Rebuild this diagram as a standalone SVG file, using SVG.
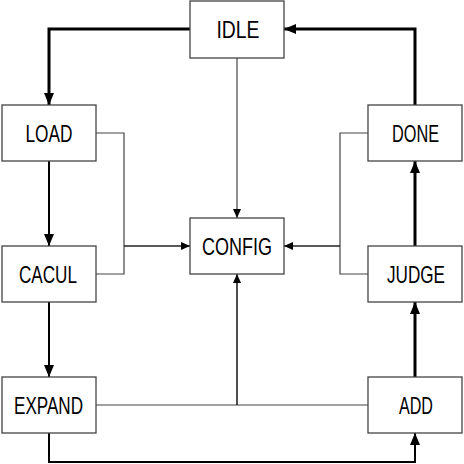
<svg xmlns="http://www.w3.org/2000/svg" width="464" height="464" viewBox="0 0 464 464">
<defs>
<marker id="big" viewBox="0 0 12 10" refX="12" refY="5" markerWidth="12" markerHeight="10" markerUnits="userSpaceOnUse" orient="auto"><path d="M0,0 L12,5 L0,10 Z" fill="#000"/></marker>
<marker id="sm" viewBox="0 0 9 8" refX="9" refY="4" markerWidth="9" markerHeight="8" markerUnits="userSpaceOnUse" orient="auto"><path d="M0,0 L9,4 L0,8 Z" fill="#000"/></marker>
</defs>
<style>
.box{fill:#fff;stroke:#444;stroke-width:1.3}
.t{font-family:"Liberation Sans",Arial,sans-serif;font-size:24px;fill:#000;text-anchor:middle}
.thick{fill:none;stroke:#000;stroke-width:3}
.med{fill:none;stroke:#000;stroke-width:2}
.thin{fill:none;stroke:#444;stroke-width:1.2}
.thinb{fill:none;stroke:#222;stroke-width:1.6}
</style>
<rect width="464" height="464" fill="#fff"/>
<g id="connectors">
<path class="thick" d="M190,29 H49 V105" marker-end="url(#big)"/>
<path class="thick" d="M415,105 V29 H284" marker-end="url(#big)"/>
<path class="thick" d="M415,246 V161" marker-end="url(#big)"/>
<path class="thick" d="M415,377 V302" marker-end="url(#big)"/>
<path class="med" d="M49,161 V246" marker-end="url(#big)"/>
<path class="med" d="M49,302 V377" marker-end="url(#big)"/>
<path class="med" d="M49,433 V462 H415 V433" marker-end="url(#big)"/>
<path class="thin" d="M237,58 V218" marker-end="url(#sm)"/>
<path class="thin" d="M96,133 H124 V274 H96"/>
<path class="thinb" d="M124,246 H190" marker-end="url(#sm)"/>
<path class="thin" d="M368,133 H340 V274 H368"/>
<path class="thinb" d="M340,246 H284" marker-end="url(#sm)"/>
<path class="thin" d="M96,405 H368"/>
<path class="thinb" d="M237,405 V274" marker-end="url(#sm)"/>
</g>
<g id="IDLE"><rect class="box" x="190" y="1" width="94" height="57"/><text class="t" x="238" y="37.5" textLength="43" lengthAdjust="spacingAndGlyphs">IDLE</text></g>
<g id="LOAD"><rect class="box" x="2" y="105" width="94" height="56"/><text class="t" x="49" y="141.5" textLength="47" lengthAdjust="spacingAndGlyphs">LOAD</text></g>
<g id="CACUL"><rect class="box" x="2" y="246" width="94" height="56"/><text class="t" x="48" y="282.5" textLength="58" lengthAdjust="spacingAndGlyphs">CACUL</text></g>
<g id="EXPAND"><rect class="box" x="2" y="377" width="94" height="56"/><text class="t" x="48.5" y="413.5" textLength="69" lengthAdjust="spacingAndGlyphs">EXPAND</text></g>
<g id="CONFIG"><rect class="box" x="190" y="218" width="94" height="56"/><text class="t" x="237" y="254.5" textLength="70" lengthAdjust="spacingAndGlyphs">CONFIG</text></g>
<g id="DONE"><rect class="box" x="368" y="105" width="94" height="56"/><text class="t" x="415.5" y="141.5" textLength="47" lengthAdjust="spacingAndGlyphs">DONE</text></g>
<g id="JUDGE"><rect class="box" x="368" y="246" width="94" height="56"/><text class="t" x="416" y="282.5" textLength="58" lengthAdjust="spacingAndGlyphs">JUDGE</text></g>
<g id="ADD"><rect class="box" x="368" y="377" width="94" height="56"/><text class="t" x="416" y="413.5" textLength="34" lengthAdjust="spacingAndGlyphs">ADD</text></g>
</svg>
